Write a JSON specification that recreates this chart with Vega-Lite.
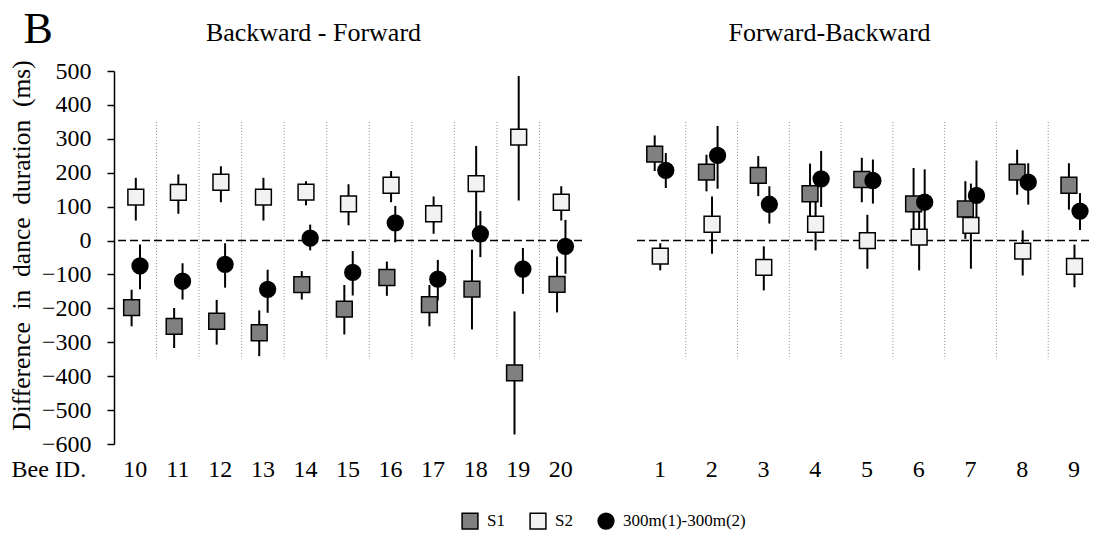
{
  "$schema": "https://vega.github.io/schema/vega-lite/v6.json",
  "padding": {"left": 9, "top": 7, "right": 0, "bottom": 0},
  "background": "white",
  "config": {
    "font": "Liberation Serif",
    "view": {"stroke": null},
    "axis": {"grid": false, "labelFont": "Liberation Serif", "titleFont": "Liberation Serif", "labelColor": "#000", "titleColor": "#000", "domainColor": "#000", "tickColor": "#000", "labelFontSize": 24, "titleFontSize": 24, "titleFontWeight": "normal"},
    "legend": {"labelFont": "Liberation Serif"}
  },
  "datasets": {
    "bf": [
      {"bee": 10, "series": "S1", "mean": -198, "lo": -253, "hi": -145},
      {"bee": 10, "series": "S2", "mean": 128, "lo": 59, "hi": 185},
      {"bee": 10, "series": "300m(1)-300m(2)", "mean": -75, "lo": -144, "hi": -12},
      {"bee": 11, "series": "S1", "mean": -253, "lo": -317, "hi": -199},
      {"bee": 11, "series": "S2", "mean": 142, "lo": 79, "hi": 195},
      {"bee": 11, "series": "300m(1)-300m(2)", "mean": -120, "lo": -174, "hi": -67},
      {"bee": 12, "series": "S1", "mean": -238, "lo": -307, "hi": -175},
      {"bee": 12, "series": "S2", "mean": 172, "lo": 113, "hi": 219},
      {"bee": 12, "series": "300m(1)-300m(2)", "mean": -70, "lo": -139, "hi": -8},
      {"bee": 13, "series": "S1", "mean": -272, "lo": -341, "hi": -206},
      {"bee": 13, "series": "S2", "mean": 128, "lo": 59, "hi": 185},
      {"bee": 13, "series": "300m(1)-300m(2)", "mean": -144, "lo": -213, "hi": -86},
      {"bee": 14, "series": "S1", "mean": -130, "lo": -174, "hi": -90},
      {"bee": 14, "series": "S2", "mean": 143, "lo": 104, "hi": 175},
      {"bee": 14, "series": "300m(1)-300m(2)", "mean": 7, "lo": -29, "hi": 47},
      {"bee": 15, "series": "S1", "mean": -202, "lo": -277, "hi": -131},
      {"bee": 15, "series": "S2", "mean": 108, "lo": 45, "hi": 166},
      {"bee": 15, "series": "300m(1)-300m(2)", "mean": -94, "lo": -162, "hi": -31},
      {"bee": 16, "series": "S1", "mean": -109, "lo": -163, "hi": -62},
      {"bee": 16, "series": "S2", "mean": 163, "lo": 113, "hi": 205},
      {"bee": 16, "series": "300m(1)-300m(2)", "mean": 52, "lo": -5, "hi": 102},
      {"bee": 17, "series": "S1", "mean": -189, "lo": -253, "hi": -131},
      {"bee": 17, "series": "S2", "mean": 79, "lo": 20, "hi": 130},
      {"bee": 17, "series": "300m(1)-300m(2)", "mean": -114, "lo": -177, "hi": -57},
      {"bee": 18, "series": "S1", "mean": -143, "lo": -262, "hi": -27},
      {"bee": 18, "series": "S2", "mean": 168, "lo": 40, "hi": 279},
      {"bee": 18, "series": "300m(1)-300m(2)", "mean": 20, "lo": -49, "hi": 87},
      {"bee": 19, "series": "S1", "mean": -390, "lo": -572, "hi": -209},
      {"bee": 19, "series": "S2", "mean": 305, "lo": 118, "hi": 485},
      {"bee": 19, "series": "300m(1)-300m(2)", "mean": -84, "lo": -157, "hi": -22},
      {"bee": 20, "series": "S1", "mean": -129, "lo": -212, "hi": -47},
      {"bee": 20, "series": "S2", "mean": 113, "lo": 59, "hi": 160},
      {"bee": 20, "series": "300m(1)-300m(2)", "mean": -17, "lo": -98, "hi": 61}
    ],
    "fb": [
      {"bee": 1, "series": "S1", "mean": 255, "lo": 205, "hi": 310},
      {"bee": 1, "series": "S2", "mean": -46, "lo": -88, "hi": -8},
      {"bee": 1, "series": "300m(1)-300m(2)", "mean": 207, "lo": 155, "hi": 258},
      {"bee": 2, "series": "S1", "mean": 202, "lo": 145, "hi": 253},
      {"bee": 2, "series": "S2", "mean": 48, "lo": -39, "hi": 130},
      {"bee": 2, "series": "300m(1)-300m(2)", "mean": 251, "lo": 153, "hi": 338},
      {"bee": 3, "series": "S1", "mean": 192, "lo": 131, "hi": 249},
      {"bee": 3, "series": "S2", "mean": -79, "lo": -147, "hi": -17},
      {"bee": 3, "series": "300m(1)-300m(2)", "mean": 107, "lo": 50, "hi": 160},
      {"bee": 4, "series": "S1", "mean": 138, "lo": 53, "hi": 227},
      {"bee": 4, "series": "S2", "mean": 48, "lo": -29, "hi": 118},
      {"bee": 4, "series": "300m(1)-300m(2)", "mean": 182, "lo": 99, "hi": 264},
      {"bee": 5, "series": "S1", "mean": 180, "lo": 113, "hi": 244},
      {"bee": 5, "series": "S2", "mean": 0, "lo": -83, "hi": 76},
      {"bee": 5, "series": "300m(1)-300m(2)", "mean": 177, "lo": 109, "hi": 239},
      {"bee": 6, "series": "S1", "mean": 108, "lo": 10, "hi": 214},
      {"bee": 6, "series": "S2", "mean": 10, "lo": -88, "hi": 89},
      {"bee": 6, "series": "300m(1)-300m(2)", "mean": 113, "lo": 20, "hi": 210},
      {"bee": 7, "series": "S1", "mean": 93, "lo": 5, "hi": 175},
      {"bee": 7, "series": "S2", "mean": 45, "lo": -83, "hi": 168},
      {"bee": 7, "series": "300m(1)-300m(2)", "mean": 133, "lo": 20, "hi": 236},
      {"bee": 8, "series": "S1", "mean": 202, "lo": 135, "hi": 268},
      {"bee": 8, "series": "S2", "mean": -31, "lo": -103, "hi": 30},
      {"bee": 8, "series": "300m(1)-300m(2)", "mean": 172, "lo": 106, "hi": 228},
      {"bee": 9, "series": "S1", "mean": 163, "lo": 91, "hi": 228},
      {"bee": 9, "series": "S2", "mean": -76, "lo": -138, "hi": -12},
      {"bee": 9, "series": "300m(1)-300m(2)", "mean": 87, "lo": 31, "hi": 140}
    ],
    "bfsep": [{"bee": 10}, {"bee": 11}, {"bee": 12}, {"bee": 13}, {"bee": 14}, {"bee": 15}, {"bee": 16}, {"bee": 17}, {"bee": 18}, {"bee": 19}],
    "fbsep": [{"bee": 1}, {"bee": 2}, {"bee": 3}, {"bee": 4}, {"bee": 5}, {"bee": 6}, {"bee": 7}, {"bee": 8}]
  },
  "spacing": 50,
  "resolve": {"scale": {"x": "independent", "xOffset": "independent"}},
  "hconcat": [
    {
      "width": 468,
      "height": 373,
      "layer": [
        {
          "data": {"name": "bfsep"},
          "mark": {"type": "rule", "color": "#8c8c8c", "strokeDash": [1, 2], "strokeWidth": 1},
          "encoding": {
            "x": {"field": "bee", "type": "ordinal", "bandPosition": 1, "scale": {"type": "band", "paddingInner": 0, "paddingOuter": 0}, "axis": {"orient": "top", "title": "Backward - Forward", "labels": false, "ticks": false, "domain": false, "titleX": 199, "titleY": -31, "titleAlign": "center", "titleBaseline": "alphabetic", "titleAngle": 0, "titleFontSize": 26}},
            "y": {"datum": 350, "type": "quantitative", "scale": {"domain": [-600, 500], "nice": false, "zero": false}, "axis": {"orient": "right", "title": "B", "labels": false, "ticks": false, "domain": false, "titleX": -559, "titleY": -29, "titleAlign": "left", "titleBaseline": "alphabetic", "titleAngle": 0, "titleFontSize": 44}},
            "y2": {"datum": -350}
          }
        },
        {
          "data": {"values": [{}]},
          "mark": {"type": "rule", "color": "#000", "strokeDash": [8, 4], "strokeWidth": 1.5},
          "encoding": {
            "y": {"datum": 0, "type": "quantitative", "scale": {"domain": [-600, 500], "nice": false, "zero": false}, "axis": null}
          }
        },
        {
          "data": {"name": "bf"},
          "mark": {"type": "rule", "color": "#000", "strokeWidth": 2},
          "encoding": {
            "x": {"field": "bee", "type": "ordinal", "scale": {"type": "band", "paddingInner": 0, "paddingOuter": 0}, "axis": null},
            "xOffset": {"field": "series", "type": "nominal", "scale": {"type": "point", "domain": ["S1", "S2", "300m(1)-300m(2)"], "range": [17.6, 26], "padding": 0}},
            "y": {"field": "lo", "type": "quantitative", "scale": {"domain": [-600, 500], "nice": false, "zero": false}, "axis": null},
            "y2": {"field": "hi"}
          }
        },
        {
          "data": {"name": "bf"},
          "mark": {"type": "point", "filled": true, "stroke": "#000", "strokeWidth": 1.5, "size": 250, "opacity": 1},
          "encoding": {
            "x": {"field": "bee", "type": "ordinal", "scale": {"type": "band", "paddingInner": 0, "paddingOuter": 0}, "axis": {"orient": "bottom", "title": "Bee ID.", "titleX": -103, "titleY": 13, "titleAlign": "left", "titleBaseline": "top", "labelAngle": 0, "labelPadding": 13, "ticks": false, "tickSize": 0, "domain": false, "labelBaseline": "top"}},
            "xOffset": {"field": "series", "type": "nominal", "scale": {"type": "point", "domain": ["S1", "S2", "300m(1)-300m(2)"], "range": [17.6, 26], "padding": 0}},
            "y": {"field": "mean", "type": "quantitative", "scale": {"domain": [-600, 500], "nice": false, "zero": false}, "axis": {"orient": "left", "title": "Difference\u00a0 in\u00a0 dance\u00a0 duration\u00a0 (ms)", "titleFontSize": 25.5, "titleY": 174, "values": [-600, -500, -400, -300, -200, -100, 0, 100, 200, 300, 400, 500], "tickSize": 7, "tickWidth": 1.5, "domainWidth": 1.5, "labelPadding": 16, "titlePadding": 7, "labelFlush": false, "labelOverlap": false}},
            "color": {"field": "series", "type": "nominal", "scale": {"domain": ["S1", "S2", "300m(1)-300m(2)"], "range": ["#808080", "#f2f2f2", "#000000"]}, "legend": {"title": null, "orient": "none", "legendX": 347, "legendY": 441, "direction": "horizontal", "symbolSize": 250, "symbolStrokeWidth": 1.5, "symbolStrokeColor": "#000", "labelFontSize": 17, "labelColor": "#000", "columnPadding": 22, "labelOffset": 8}},
            "shape": {"field": "series", "type": "nominal", "scale": {"domain": ["S1", "S2", "300m(1)-300m(2)"], "range": ["square", "square", "circle"]}, "legend": {"title": null, "orient": "none", "legendX": 347, "legendY": 441, "direction": "horizontal", "symbolSize": 250, "symbolStrokeWidth": 1.5, "symbolStrokeColor": "#000", "labelFontSize": 17, "labelColor": "#000", "columnPadding": 22, "labelOffset": 8}}
          }
        }
      ]
    },
    {
      "width": 455,
      "height": 373,
      "layer": [
        {
          "data": {"name": "fbsep"},
          "mark": {"type": "rule", "color": "#8c8c8c", "strokeDash": [1, 2], "strokeWidth": 1},
          "encoding": {
            "x": {"field": "bee", "type": "ordinal", "bandPosition": 1, "scale": {"type": "band", "paddingInner": 0, "paddingOuter": 0, "range": [0, 466]}, "axis": {"orient": "top", "title": "Forward-Backward", "labels": false, "ticks": false, "domain": false, "titleX": 195, "titleY": -31, "titleAlign": "center", "titleBaseline": "alphabetic", "titleAngle": 0, "titleFontSize": 26}},
            "y": {"datum": 350, "type": "quantitative", "scale": {"domain": [-600, 500], "nice": false, "zero": false}, "axis": null},
            "y2": {"datum": -350}
          }
        },
        {
          "data": {"values": [{}]},
          "mark": {"type": "rule", "color": "#000", "strokeDash": [8, 4], "strokeWidth": 1.5},
          "encoding": {
            "y": {"datum": 0, "type": "quantitative", "scale": {"domain": [-600, 500], "nice": false, "zero": false}, "axis": null}
          }
        },
        {
          "data": {"name": "fb"},
          "mark": {"type": "rule", "color": "#000", "strokeWidth": 2},
          "encoding": {
            "x": {"field": "bee", "type": "ordinal", "scale": {"type": "band", "paddingInner": 0, "paddingOuter": 0, "range": [0, 466]}, "axis": null},
            "xOffset": {"field": "series", "type": "nominal", "scale": {"type": "point", "domain": ["S1", "S2", "300m(1)-300m(2)"], "range": [20.7, 31.8], "padding": 0}},
            "y": {"field": "lo", "type": "quantitative", "scale": {"domain": [-600, 500], "nice": false, "zero": false}, "axis": null},
            "y2": {"field": "hi"}
          }
        },
        {
          "data": {"name": "fb"},
          "mark": {"type": "point", "filled": true, "stroke": "#000", "strokeWidth": 1.5, "size": 250, "opacity": 1},
          "encoding": {
            "x": {"field": "bee", "type": "ordinal", "scale": {"type": "band", "paddingInner": 0, "paddingOuter": 0, "range": [0, 466]}, "axis": {"orient": "bottom", "title": null, "labelAngle": 0, "labelPadding": 13, "ticks": false, "tickSize": 0, "domain": false, "labelBaseline": "top"}},
            "xOffset": {"field": "series", "type": "nominal", "scale": {"type": "point", "domain": ["S1", "S2", "300m(1)-300m(2)"], "range": [20.7, 31.8], "padding": 0}},
            "y": {"field": "mean", "type": "quantitative", "scale": {"domain": [-600, 500], "nice": false, "zero": false}, "axis": null},
            "color": {"field": "series", "type": "nominal", "scale": {"domain": ["S1", "S2", "300m(1)-300m(2)"], "range": ["#808080", "#f2f2f2", "#000000"]}, "legend": {"title": null, "orient": "none", "legendX": 347, "legendY": 441, "direction": "horizontal", "symbolSize": 250, "symbolStrokeWidth": 1.5, "symbolStrokeColor": "#000", "labelFontSize": 17, "labelColor": "#000", "columnPadding": 22, "labelOffset": 8}},
            "shape": {"field": "series", "type": "nominal", "scale": {"domain": ["S1", "S2", "300m(1)-300m(2)"], "range": ["square", "square", "circle"]}, "legend": {"title": null, "orient": "none", "legendX": 347, "legendY": 441, "direction": "horizontal", "symbolSize": 250, "symbolStrokeWidth": 1.5, "symbolStrokeColor": "#000", "labelFontSize": 17, "labelColor": "#000", "columnPadding": 22, "labelOffset": 8}}
          }
        }
      ]
    }
  ]
}
